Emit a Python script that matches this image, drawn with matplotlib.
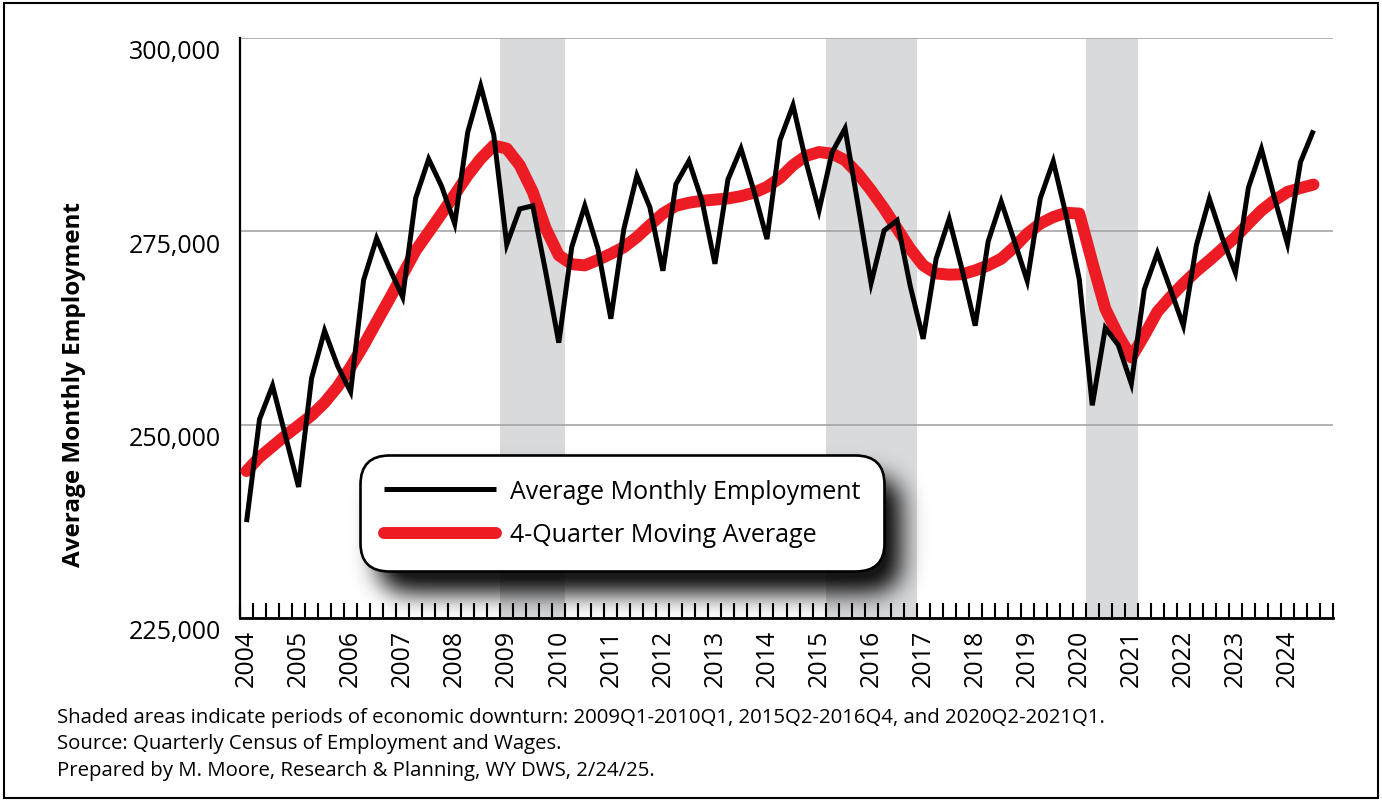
import numpy as np
import matplotlib
matplotlib.use("Agg")
import matplotlib.pyplot as plt
from matplotlib.transforms import ScaledTranslation
from matplotlib.patches import Rectangle

# ---------------- data ----------------
quarters = [f"{y}Q{q}" for y in range(2004, 2025) for q in range(1, 5)][:83]

employment = [
    237400, 250700, 255050, 248500, 241950, 256000, 262150, 257600,
    254250, 268700, 274100, 270200, 266500, 279300, 284350, 280800,
    276000, 287800, 293800, 287500, 273300, 277900, 278300, 269700,
    260600, 273000, 278300, 272800, 263700, 275300, 282200, 278100,
    269900, 281100, 284100, 279000, 270800, 281700, 285700, 280200,
    274000, 286800, 291300, 284000, 277700, 285200, 288300, 278400,
    268300, 275100, 276400, 268000, 261100, 271450, 276600, 270000,
    262800, 273700, 278850, 273800, 268600, 279250, 284050, 277000,
    268800, 252500, 262500, 260300, 255300, 267500, 272200, 267550,
    262800, 273200, 279200, 274100, 269650, 280650, 285650, 279300,
    273400, 283950, 288050,
]

moving_avg = [
    244000, 245800, 247200, 248600, 249900, 251200, 252850, 254900,
    257450, 260250, 263300, 266300, 269400, 272500, 274900, 277300,
    279750, 282250, 284400, 286100, 285700, 283550, 280100, 275350,
    271900, 270750, 270600, 271300, 272100, 272950, 274250, 275800,
    277300, 278300, 278700, 278950, 279100, 279250, 279550, 280000,
    280750, 281900, 283550, 284750, 285250, 285050, 284200, 282450,
    280300, 277950, 275350, 272750, 270600, 269550, 269400, 269450,
    269950, 270600, 271450, 272950, 274700, 276000, 276850, 277400,
    277300, 271000, 265000, 261550, 258700, 261550, 264600, 266500,
    268250, 269850, 271250, 272750, 274250, 276000, 277700, 279000,
    280100, 280600, 281050,
]

year_labels = [str(y) for y in range(2004, 2025)]
downturns = [("2009Q1", "2010Q1"), ("2015Q2", "2016Q4"), ("2020Q2", "2021Q1")]
y_ticks = [225000, 250000, 275000, 300000]

y_title = "Average Monthly Employment"
series_names = ["Average Monthly Employment", "4-Quarter Moving Average"]
footnotes = [
    "Shaded areas indicate periods of economic downturn: 2009Q1-2010Q1, 2015Q2-2016Q4, and 2020Q2-2021Q1.",
    "Source: Quarterly Census of Employment and Wages.",
    "Prepared by M. Moore, Research & Planning, WY DWS, 2/24/25.",
]

# ---------------- figure ----------------
W, H = 1382, 803
DPI = 100
fig = plt.figure(figsize=(W / DPI, H / DPI), dpi=DPI)
fig.patch.set_facecolor("white")

def fx(px):
    return px / W

def fy(py):
    return 1 - py / H

ax = fig.add_axes([fx(240), fy(619), fx(1333) - fx(240), fy(39) - fy(619)])
ax.set_facecolor("white")

n_bands = 84
x = np.arange(len(quarters)) + 0.5

# shaded downturn bands
for start, end in downturns:
    s = quarters.index(start)
    e = quarters.index(end) + 1
    ax.axvspan(s, e, color="#D9DADC", zorder=0.5, lw=0)

ax.plot(x, moving_avg, color="#ED1C24", lw=8.6, solid_capstyle="round",
        solid_joinstyle="round", zorder=3, label=series_names[1])
ax.plot(x, employment, color="black", lw=3.6, solid_capstyle="butt",
        solid_joinstyle="miter", zorder=4, label=series_names[0])

ax.set_xlim(0, n_bands)
ax.set_ylim(225000, 300000)

# y axis
ax.set_yticks(y_ticks)
ax.set_yticklabels([f"{v:,}" for v in y_ticks], fontfamily="Open Sans", fontsize=18)
ax.tick_params(axis="y", length=0, pad=14)
off = ScaledTranslation(0, -11 / DPI, fig.dpi_scale_trans)
for lab in ax.get_yticklabels():
    lab.set_transform(lab.get_transform() + off)
ax.yaxis.grid(True, color="#A6A6A6", lw=1.2)
ax.set_axisbelow(True)

# x axis: tick marks at band boundaries, labels at Q1 bands
ax.set_xticks(np.arange(0, n_bands + 1))
ax.set_xticklabels([])
ax.tick_params(axis="x", which="major", direction="in", length=10.5, width=1.5, color="black")
ax.set_xticks(np.arange(0, len(year_labels) * 4, 4) + 0.5, minor=True)
ax.set_xticklabels(year_labels, minor=True, rotation=90, fontfamily="Open Sans", fontsize=18,
                   va="top", ha="center")
ax.tick_params(axis="x", which="minor", length=0, pad=8)

for side in ["top", "right"]:
    ax.spines[side].set_visible(False)
ax.spines["left"].set_linewidth(1.6)
ax.spines["bottom"].set_linewidth(2.0)

# y-axis title
fig.text(fx(74), fy(385), y_title, rotation=90, ha="center", va="center",
         fontfamily="Open Sans", fontweight="bold", fontsize=17.5)

# legend
h_emp, h_ma = ax.get_lines()[1], ax.get_lines()[0]
leg = fig.legend([h_emp, h_ma], series_names, loc="upper left",
                 bbox_to_anchor=(fx(360), fy(456)), bbox_transform=fig.transFigure,
                 prop={"family": "Open Sans", "size": 18},
                 handlelength=4.5, handletextpad=0.54, borderpad=0.95,
                 labelspacing=0.75, borderaxespad=0, frameon=True, fancybox=True)
frame = leg.get_frame()
frame.set_boxstyle("round", pad=0, rounding_size=1.15)
frame.set_edgecolor("black")
frame.set_linewidth(1.9)
frame.set_facecolor("white")
frame.set_alpha(1)
leg.set_zorder(10)

# footnotes
for i, t in enumerate(footnotes):
    fig.text(fx(57), fy([718, 744, 771][i]), t, fontfamily="Open Sans", fontsize=14.7,
             va="center", ha="left")

# outer border
fig.add_artist(Rectangle((fx(4), fy(799)), fx(1378) - fx(4), fy(4) - fy(799),
                         transform=fig.transFigure, fill=False, ec="black", lw=1.5))

# blurred drop shadow under the legend
fig.canvas.draw()
bb = frame.get_window_extent(fig.canvas.get_renderer())
dx, dy = 17, -20
padp = 55
x0 = int(bb.x0 + dx - padp)
y0 = int(bb.y0 + dy - padp)
w = int(bb.width + 2 * padp)
h = int(bb.height + 2 * padp)
yy, xx = np.mgrid[0:h, 0:w]
cx = padp + bb.width / 2
cy = h - (padp + bb.height / 2)
r = 28
ddx = np.maximum(np.abs(xx - cx) - (bb.width / 2 - r), 0)
ddy = np.maximum(np.abs(yy - cy) - (bb.height / 2 - r), 0)
mask = ((ddx ** 2 + ddy ** 2) <= r ** 2).astype(float)
sig = 12
kx = np.arange(-3 * sig, 3 * sig + 1)
k = np.exp(-kx ** 2 / (2 * sig ** 2))
k /= k.sum()
blur = np.apply_along_axis(lambda m: np.convolve(m, k, mode="same"), 1, mask)
blur = np.apply_along_axis(lambda m: np.convolve(m, k, mode="same"), 0, blur)
img = np.zeros((h, w, 4))
img[..., 3] = np.clip(blur * 1.0, 0, 0.9)
fig.figimage(img, xo=x0, yo=y0, origin="upper", zorder=5)

fig.savefig("out.png", dpi=DPI, facecolor="white")
